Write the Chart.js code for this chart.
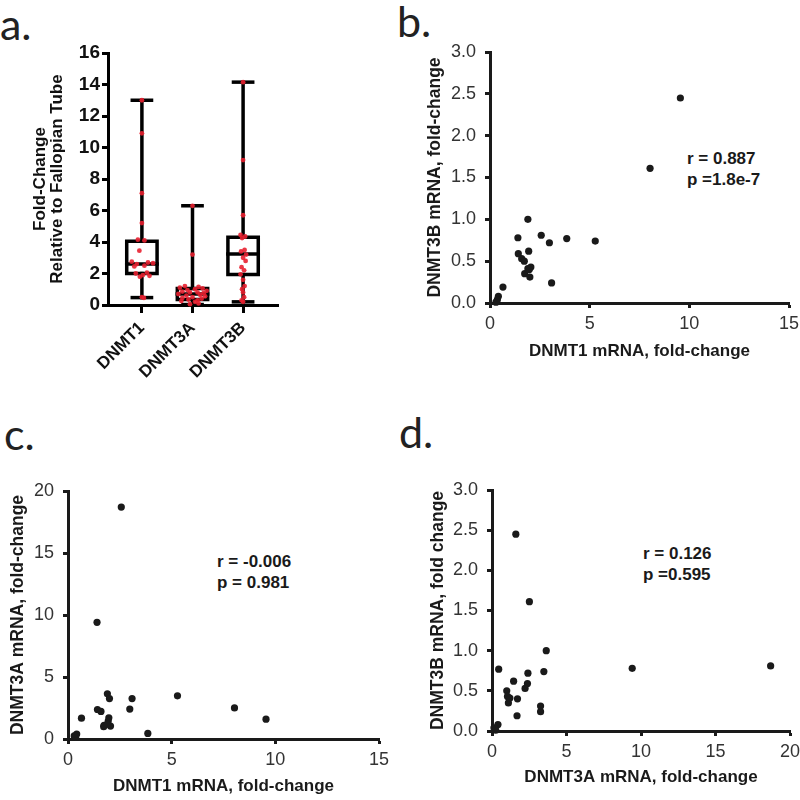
<!DOCTYPE html>
<html>
<head>
<meta charset="utf-8">
<script src="https://cdn.jsdelivr.net/npm/chart.js@4.4.1/dist/chart.umd.min.js"></script>
<style>
    body { margin: 0; width: 800px; height: 800px; overflow: hidden; background: #fff; position: relative; }
    canvas { position: absolute; }
    .letter { position: absolute; font-family: Lato, "Open Sans", sans-serif; font-size: 43px; line-height: 43px; color: #222; }
    .stat { position: absolute; font-family: "Liberation Sans", Arial, sans-serif; font-weight: bold; font-size: 17px; line-height: 21px; color: #1a1a1a; white-space: nowrap; }
</style>
</head>
<body>
<div class="letter" style="left:0px;top:2px">a.</div>
<div class="letter" style="left:397px;top:-1px">b.</div>
<div class="letter" style="left:4px;top:412px">c.</div>
<div class="letter" style="left:399px;top:410px">d.</div>

<div class="stat" style="left:687px;top:148px">r = 0.887<br>p =1.8e-7</div>
<div class="stat" style="left:217px;top:551px">r = -0.006<br>p = 0.981</div>
<div class="stat" style="left:643px;top:543px">r = 0.126<br>p =0.595</div>

<canvas id="chartA" width="290" height="400" style="left:0px;top:0px"></canvas>
<canvas id="chartB" width="440" height="390" style="left:380px;top:0px"></canvas>
<canvas id="chartC" width="400" height="400" style="left:0px;top:400px"></canvas>
<canvas id="chartD" width="420" height="400" style="left:400px;top:400px"></canvas>

<script>
// panel a: fold-change relative to fallopian tube
const categories = ["DNMT1", "DNMT3A", "DNMT3B"];
const boxMin = [0.47, 0.03, 0.2];
const boxQ1 = [2.0, 0.35, 1.93];
const boxMedian = [2.6, 0.7, 3.24];
const boxQ3 = [4.05, 1.05, 4.3];
const boxMax = [13.0, 6.3, 14.15];

const dotsDNMT1 = [13.0, 10.9, 7.1, 5.2, 4.15, 4.1, 3.45, 2.75, 2.7, 2.65, 2.6, 2.5, 2.45, 2.05, 2.0, 1.9, 1.85, 1.8, 0.5, 0.45];
const jitterDNMT1 = [0, 0, 0, 0, -0.08, 0.05, -0.05, -0.2, 0.12, 0.22, -0.1, 0.05, -0.15, 0.1, -0.12, 0.02, 0.15, -0.04, 0, 0.04];
const dotsDNMT3A = [6.3, 3.2, 1.2, 1.15, 1.1, 1.05, 1.0, 0.95, 0.9, 0.85, 0.8, 0.8, 0.75, 0.7, 0.65, 0.6, 0.55, 0.5, 0.45, 0.4, 0.35, 0.3, 0.25, 0.2, 0.1, 0.05];
const jitterDNMT3A = [0, 0, -0.15, 0.12, -0.25, 0.2, 0.05, -0.1, 0.28, -0.2, 0.1, -0.05, 0.22, -0.28, 0.15, -0.12, 0.25, 0, -0.2, 0.18, -0.08, 0.1, -0.22, 0.05, 0.12, -0.05];
const dotsDNMT3B = [14.15, 9.2, 5.7, 4.45, 4.35, 4.25, 3.5, 3.4, 3.2, 3.0, 2.8, 2.4, 2.2, 1.95, 1.6, 1.2, 1.0, 0.8, 0.5, 0.3, 0.2];
const jitterDNMT3B = [0, 0, 0, -0.05, 0.04, -0.02, 0.03, -0.04, 0.06, 0, 0.05, -0.03, 0.02, -0.05, 0, 0.03, -0.02, 0, 0.02, -0.03, 0];

// panels b-d: per-sample mRNA fold-change
const dnmt1 = [9.55, 8.03, 5.28, 3.85, 3.09, 2.98, 2.57, 1.90, 1.40, 1.42, 1.94, 1.59, 1.72, 2.05, 1.97, 1.74, 2.00, 0.65, 0.42, 0.37, 0.30, 1.90];
const dnmt3a = [1.60, 2.51, 3.48, 0.45, 3.26, 2.41, 18.7, 3.64, 9.41, 2.38, 1.45, 2.22, 0.99, 1.04, 1.71, 1.10, 3.26, 1.68, 0.40, 0.13, 0.25, 1.20];
const dnmt3b = [2.45, 1.61, 0.74, 0.77, 0.24, 0.72, 0.81, 1.00, 0.78, 0.59, 0.62, 0.53, 0.50, 0.43, 0.40, 0.35, 0.31, 0.19, 0.08, 0.04, 0.01, 0.41];

const FONT = '"Liberation Sans", Arial, sans-serif';
const INK = '#1a1a1a';

function lineSet(pts) {
    return {
        data: pts,
        showLine: true,
        borderColor: '#000',
        borderWidth: 3.5,
        borderCapStyle: 'square',
        borderJoinStyle: 'miter',
        pointRadius: 0,
        fill: false,
        order: 2
    };
}

function dotSet(values, jitter, i) {
    return {
        data: values.map((v, k) => ({ x: i + jitter[k], y: v })),
        pointRadius: 2.4,
        pointBackgroundColor: 'rgba(232, 32, 48, 0.9)',
        pointBorderWidth: 0,
        order: 0
    };
}

let boxSets = [];
categories.forEach((c, i) => {
    let bw = 0.3, cw = 0.19;
    boxSets.push(lineSet([
        { x: i - bw, y: boxQ1[i] }, { x: i + bw, y: boxQ1[i] },
        { x: i + bw, y: boxQ3[i] }, { x: i - bw, y: boxQ3[i] }, { x: i - bw, y: boxQ1[i] }
    ]));
    boxSets.push(lineSet([{ x: i - bw, y: boxMedian[i] }, { x: i + bw, y: boxMedian[i] }]));
    boxSets.push(lineSet([{ x: i, y: boxMin[i] }, { x: i, y: boxQ1[i] }]));
    boxSets.push(lineSet([{ x: i, y: boxQ3[i] }, { x: i, y: boxMax[i] }]));
    boxSets.push(lineSet([{ x: i - cw, y: boxMin[i] }, { x: i + cw, y: boxMin[i] }]));
    boxSets.push(lineSet([{ x: i - cw, y: boxMax[i] }, { x: i + cw, y: boxMax[i] }]));
});

new Chart(document.getElementById("chartA"), {
    type: "scatter",
    data: {
        datasets: [
            dotSet(dotsDNMT1, jitterDNMT1, 0),
            dotSet(dotsDNMT3A, jitterDNMT3A, 1),
            dotSet(dotsDNMT3B, jitterDNMT3B, 2)
        ].concat(boxSets)
    },
    options: {
        responsive: false,
        animation: false,
        clip: false,
        layout: { padding: { left: 31, right: 12, top: 53, bottom: 15 } },
        plugins: { legend: { display: false }, tooltip: { enabled: false } },
        scales: {
            x: {
                type: "linear",
                min: -0.67,
                max: 2.69,
                afterBuildTicks: s => { s.ticks = categories.map((c, i) => ({ value: i })); },
                afterFit: s => { s.height = 80; },
                ticks: {
                    callback: v => categories[v],
                    autoSkip: false,
                    minRotation: 45,
                    maxRotation: 45,
                    padding: 5,
                    color: '#111',
                    font: { family: FONT, size: 17, weight: 'bold' }
                },
                grid: { drawOnChartArea: false, tickLength: 8, tickWidth: 3, tickColor: '#000' },
                border: { width: 3, color: '#000' }
            },
            y: {
                min: 0,
                max: 16,
                afterFit: s => { s.width = 77; },
                ticks: { stepSize: 2, padding: 2, color: '#111', font: { family: FONT, size: 19, weight: 'bold' } },
                grid: { drawOnChartArea: false, tickLength: 6, tickWidth: 3, tickColor: '#000' },
                border: { width: 3, color: '#000' },
                title: {
                    display: true,
                    text: ["Fold-Change", "Relative to Fallopian Tube"],
                    color: '#111',
                    padding: 0,
                    font: { family: FONT, size: 17, weight: 'bold', lineHeight: 1.05 }
                }
            }
        }
    }
});

function scatterPanel(id, xs, ys, xMax, xStep, yMax, yStep, decimals, xTitle, yTitle, pad, yWidth, xHeight) {
    new Chart(document.getElementById(id), {
        type: "scatter",
        data: {
            datasets: [{
                data: xs.map((x, k) => ({ x: x, y: ys[k] })),
                pointRadius: 3.6,
                pointBackgroundColor: INK,
                pointBorderWidth: 0
            }]
        },
        options: {
            responsive: false,
            animation: false,
            clip: false,
            layout: { padding: pad },
            plugins: { legend: { display: false }, tooltip: { enabled: false } },
            scales: {
                x: {
                    type: "linear",
                    min: 0,
                    max: xMax,
                    afterFit: s => { s.height = xHeight; },
                    ticks: { stepSize: xStep, padding: 5, color: '#333', maxRotation: 0, font: { family: FONT, size: 18 } },
                    grid: { drawOnChartArea: false, tickLength: 5, tickWidth: 3, tickColor: INK },
                    border: { width: 3, color: INK },
                    title: { display: true, text: xTitle, color: INK, padding: 0, font: { family: FONT, size: 17, weight: 'bold' } }
                },
                y: {
                    min: 0,
                    max: yMax,
                    afterFit: s => { s.width = yWidth; },
                    ticks: { stepSize: yStep, padding: 9, color: '#333', font: { family: FONT, size: 18 },
                        callback: v => v.toFixed(decimals) },
                    grid: { drawOnChartArea: false, tickLength: 5, tickWidth: 3, tickColor: INK },
                    border: { width: 3, color: INK },
                    title: { display: true, text: yTitle, color: INK, padding: 0, font: { family: FONT, size: 17.5, weight: 'bold' } }
                }
            }
        }
    });
}

scatterPanel("chartB", dnmt1, dnmt3b, 15, 5, 3, 0.5, 1,
    "DNMT1 mRNA, fold-change", "DNMT3B mRNA, fold-change",
    { left: 45, right: 31, top: 52, bottom: 28 }, 65, 59);

scatterPanel("chartC", dnmt1, dnmt3a, 15, 5, 20, 5, 0,
    "DNMT1 mRNA, fold-change", "DNMT3A mRNA, fold-change",
    { left: 8, right: 21, top: 91, bottom: 3 }, 60, 58);

scatterPanel("chartD", dnmt3a, dnmt3b, 20, 5, 3, 0.5, 1,
    "DNMT3A mRNA, fold-change", "DNMT3B mRNA, fold change",
    { left: 28, right: 30, top: 90, bottom: 12 }, 64, 57);
</script>
</body>
</html>
